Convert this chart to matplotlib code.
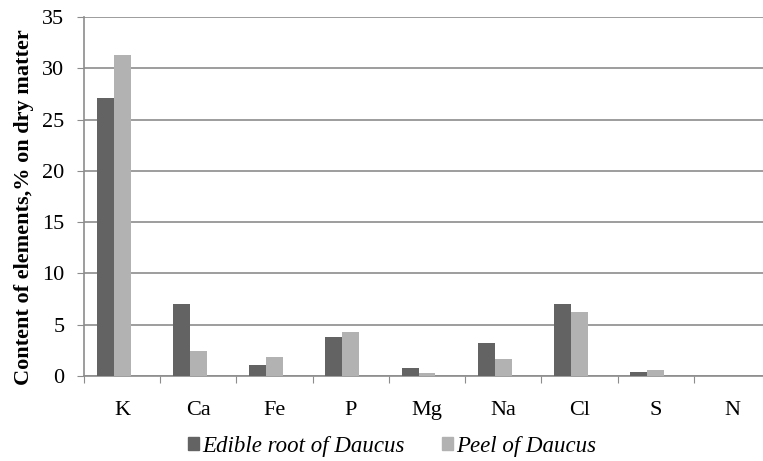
import numpy as np
import matplotlib.pyplot as plt
from matplotlib.patches import Patch

plt.rcParams['font.family'] = ['Liberation Serif', 'DejaVu Serif']

elements = ["K", "Ca", "Fe", "P", "Mg", "Na", "Cl", "S", "N"]
edible_root = [27.1, 7.0, 1.07, 3.8, 0.75, 3.25, 7.0, 0.43, 0.0]
peel = [31.3, 2.45, 1.82, 4.25, 0.33, 1.7, 6.25, 0.56, 0.0]
yticks = [0, 5, 10, 15, 20, 25, 30, 35]

dark = "#636363"
light = "#b2b2b2"
gridc = "#8c8c8c"

fig = plt.figure(figsize=(7.63, 4.61), dpi=100)
ax = fig.add_axes([84 / 763, 1 - 376 / 461, 686 / 763, 359 / 461])

x = np.arange(len(elements))
w = 1 / 4.5
ax.bar(x - w, edible_root, w, color=dark, zorder=3)
ax.bar(x, peel, w, color=light, zorder=3)

ax.set_xlim(-0.5, len(elements) - 0.5)
ax.set_ylim(0, 35)
ax.set_yticks(yticks)
ax.yaxis.grid(True, color=gridc, linewidth=1.2)
ax.set_axisbelow(True)

for side in ["top", "right"]:
    ax.spines[side].set_visible(False)
for side in ["left", "bottom"]:
    ax.spines[side].set_color(gridc)
    ax.spines[side].set_linewidth(1.2)

# category boundaries get the tick marks, names sit between them
ax.set_xticks(np.arange(len(elements) + 1) - 0.5, minor=False)
ax.set_xticklabels([])
ax.set_xticks(x, minor=True)
ax.set_xticklabels(elements, minor=True, fontsize=16)
ax.tick_params(axis="x", which="major", length=5, color=gridc, direction="out")
ax.tick_params(axis="x", which="minor", length=0, pad=18)
ax.tick_params(axis="y", length=5, color=gridc, labelsize=16, pad=9)

fig.text(0.032, 0.551, "Content of elements,% on dry matter",
         rotation=90, ha="center", va="center", fontsize=16, fontweight="bold")

handles = [Patch(color=dark), Patch(color=light)]
fig.legend(handles, ["Edible root of Daucus", "Peel of Daucus"],
           loc="center", bbox_to_anchor=(0.514, 0.032), ncol=2, frameon=False,
           prop={"style": "italic", "size": 16.5}, handlelength=0.45, handleheight=0.45,
           handletextpad=0.15, columnspacing=1.65)

fig.savefig("out.png", dpi=100)
